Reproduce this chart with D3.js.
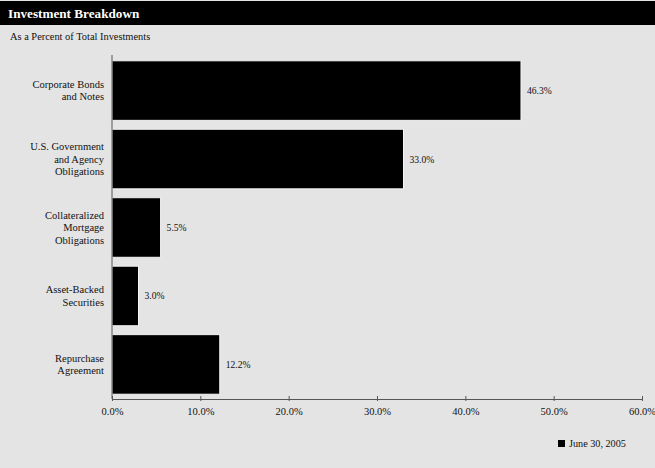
<!DOCTYPE html>
<html><head><meta charset="utf-8">
<script src="https://cdn.jsdelivr.net/npm/d3@7"></script>
<style>
html,body{margin:0;padding:0;background:#e4e4e4;}
svg{display:block;}
svg text{font-family:"Liberation Serif","Times New Roman",serif;}
</style></head>
<body><svg id="c" width="655" height="468"></svg>
<script>
const categories = [
  ["Corporate Bonds","and Notes"],
  ["U.S. Government","and Agency","Obligations"],
  ["Collateralized","Mortgage","Obligations"],
  ["Asset-Backed","Securities"],
  ["Repurchase","Agreement"]
];
const values = [46.3, 33.0, 5.5, 3.0, 12.2];
const tickValues = [0, 10, 20, 30, 40, 50, 60];
const seriesName = "June 30, 2005";

const svg = d3.select("#c");
svg.append("rect").attr("width",655).attr("height",468).attr("fill","#e4e4e4");
svg.append("rect").attr("x",0).attr("y",1).attr("width",655).attr("height",24).attr("fill","#000");
svg.append("text").attr("x",8).attr("y",18).attr("fill","#fff").attr("font-weight","bold")
  .attr("font-size",13.2).text("Investment Breakdown");
svg.append("text").attr("x",10).attr("y",40).attr("fill","#111").attr("font-size",10.4)
  .text("As a Percent of Total Investments");

const x = d3.scaleLinear().domain([0,60]).range([112,642]);
const idx = d3.range(values.length);
const y = d3.scaleBand().domain(idx).range([56,399]).paddingInner(0.13).paddingOuter(0.07);

svg.append("g").selectAll("rect").data(idx).join("rect")
  .attr("x", x(0)).attr("y", i=>y(i)).attr("width", i=>x(values[i])-x(0)).attr("height", y.bandwidth())
  .attr("fill","#000").attr("stroke","#f4f4f4").attr("stroke-width",1);

svg.append("g").selectAll("text").data(idx).join("text")
  .attr("x", i=>x(values[i])+6).attr("y", i=>y(i)+y.bandwidth()/2+3.5)
  .attr("font-size",9.6).attr("fill","#111").text(i=>values[i].toFixed(1)+"%");

const lab = svg.append("g").selectAll("text").data(idx).join("text")
  .attr("text-anchor","end").attr("font-size",10.5).attr("fill","#111");
lab.each(function(i){
  const lines = categories[i];
  const cy = y(i)+y.bandwidth()/2;
  const lh = 12.5;
  const t = d3.select(this);
  lines.forEach((l,k)=>{
    t.append("tspan").attr("x",104).attr("y", cy - (lines.length-1)*lh/2 + k*lh + 3.5).text(l);
  });
});

svg.append("line").attr("x1",112).attr("x2",112).attr("y1",55).attr("y2",399)
  .attr("stroke","#555").attr("stroke-width",1);
const xa = svg.append("g").attr("transform","translate(0,399)")
  .call(d3.axisBottom(x).tickValues(tickValues).tickSize(3).tickSizeOuter(0).tickFormat(d=>d.toFixed(1)+"%"));
xa.attr("font-family",null);
xa.select(".domain").attr("stroke","#555");
xa.selectAll(".tick line").attr("stroke","#555").attr("y1",-3).attr("y2",2);
xa.selectAll("text").attr("font-size",10.5).attr("fill","#111").attr("dy","0.95em");

svg.append("rect").attr("x",558).attr("y",440).attr("width",7).attr("height",7).attr("fill","#000");
svg.append("text").attr("x",569).attr("y",447).attr("font-size",10.2).attr("fill","#111").text(seriesName);
</script></body></html>
